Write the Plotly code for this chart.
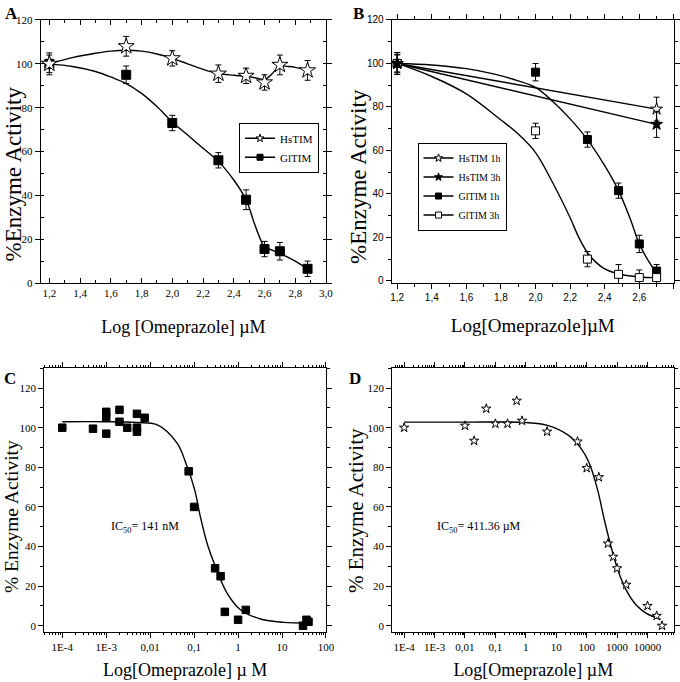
import plotly.graph_objects as go

# ---------------- Panel A ----------------
A_x = [1.2, 1.7, 2.0, 2.3, 2.48, 2.6, 2.7, 2.88]
A_hs_y = [100, 108, 102.5, 95.5, 94.5, 91.5, 99.5, 97]
A_hs_err = [5, 4.5, 3.5, 4, 3.5, 3.5, 4.5, 4.5]
A_gl_y = [100, 95, 73, 56, 38, 15.5, 14.5, 6.5]
A_gl_err = [4, 4, 3.5, 3.5, 4.5, 3.5, 4, 3.5]
# smooth curves (knots)
A_hs_cx = [1.2, 1.35, 1.5, 1.6, 1.7, 1.8, 1.9, 2.0, 2.1, 2.2, 2.3, 2.4, 2.48, 2.55, 2.6, 2.65, 2.7, 2.75, 2.8, 2.88]
A_hs_cy = [100, 102.8, 104.8, 105.8, 106.2, 105.8, 104.5, 102.5, 100, 97.5, 95.6, 94.8, 94.3, 93.5, 92.8, 95.5, 99, 98.8, 98.4, 97]
A_gl_cx = [1.2, 1.35, 1.5, 1.6, 1.7, 1.8, 1.9, 2.0, 2.1, 2.2, 2.3, 2.4, 2.48, 2.53, 2.57, 2.6, 2.65, 2.7, 2.8, 2.88]
A_gl_cy = [100, 98.8, 96.5, 94, 91, 86.5, 80.5, 73.5, 67.5, 61.5, 55.5, 47, 38, 28, 20.5, 16.5, 15, 13.5, 10, 6.5]
A_xticks = [1.2, 1.4, 1.6, 1.8, 2.0, 2.2, 2.4, 2.6, 2.8, 3.0]
A_xticktext = ["1,2", "1,4", "1,6", "1,8", "2,0", "2,2", "2,4", "2,6", "2,8", "3,0"]

# ---------------- Panel B ----------------
B_hs1_x = [1.2, 2.7]
B_hs1_y = [100, 79]
B_hs1_err = [5, 5.5]
B_hs3_x = [1.2, 2.7]
B_hs3_y = [100, 72]
B_hs3_err = [5, 6]
B_gl_x = [1.2, 2.0, 2.3, 2.48, 2.6, 2.7]
B_gl1_y = [100, 96, 65, 41.5, 17, 4.5]
B_gl1_err = [4, 4, 3.5, 3.5, 4, 3]
B_gl3_y = [100, 69, 10, 3, 1.5, 1.5]
B_gl3_err = [4, 3.5, 3.5, 4.5, 3.5, 3]
B_gl1_cx = [1.2, 1.4, 1.6, 1.75, 1.9, 2.0, 2.1, 2.2, 2.3, 2.4, 2.48, 2.55, 2.6, 2.65, 2.7]
B_gl1_cy = [100, 99.3, 97.6, 95.3, 92, 89, 82.5, 74.5, 65, 53, 41.5, 28, 17, 9.5, 3.5]
B_gl3_cx = [1.2, 1.4, 1.6, 1.8, 1.9, 2.0, 2.1, 2.2, 2.25, 2.3, 2.35, 2.4, 2.5, 2.6, 2.7]
B_gl3_cy = [100, 94, 86, 74, 67.5, 59, 45, 29, 20, 13, 8.5, 5.5, 2.8, 1.8, 1.5]
B_xticks = [1.2, 1.4, 1.6, 1.8, 2.0, 2.2, 2.4, 2.6, 2.8]
B_xticktext = ["1,2", "1,4", "1,6", "1,8", "2,0", "2,2", "2,4", "2,6", "2,8"]

# ---------------- Panel C ----------------
C_x = [1e-4, 5e-4, 1e-3, 1e-3, 1e-3, 2e-3, 2e-3, 3e-3, 5e-3, 5e-3, 5e-3, 7.5e-3,
       0.075, 0.1, 0.3, 0.4, 0.5, 1, 1.5, 30, 36, 40]
C_y = [100, 99.5, 108, 105, 97, 109, 103, 100, 107, 100, 98, 105,
       78, 60, 29, 25, 7, 3, 8, 0, 3, 2]
C_cx = [1e-4, 1e-3, 0.005, 0.0142, 0.0406, 0.0687, 0.1026, 0.138, 0.196, 0.304, 0.561, 1.13, 3.24, 11, 40]
C_cy = [103, 103, 102.6, 101.5, 92.3, 80.5, 68.7, 55.2, 41.8, 30, 16.5, 8.1, 3.4, 1.7, 1.4]

# ---------------- Panel D ----------------
D_x = [1e-4, 0.01, 0.02, 0.05, 0.1, 0.25, 0.5, 0.75, 5, 50, 100, 250, 500, 750, 1000, 2000, 10000, 20000, 30000]
D_y = [100, 101, 93.4, 109.6, 102, 102, 113.6, 103.5, 98, 93, 79.6, 75, 41.5, 34.8, 29, 20.7, 10, 5, 0]
D_cx = [1e-4, 0.01, 1, 5.1, 23.4, 64.3, 121, 228, 380, 630, 1050, 1960, 4160, 8900, 27000]
D_cy = [102.8, 102.8, 102.6, 101.2, 96.5, 89.7, 82.2, 68.7, 53.5, 40, 28.3, 18.2, 10.6, 6.4, 3.2]

LOG_xticks = [1e-4, 1e-3, 0.01, 0.1, 1, 10, 100, 1000, 10000]
LOG_xticktext = ["1E-4", "1E-3", "0,01", "0,1", "1", "10", "100", "1000", "10000"]
Y_ticks = [0, 20, 40, 60, 80, 100, 120]

SERIF = "Liberation Serif"
SANS = "Liberation Sans"
BLK = "black"

fig = go.Figure()

def curve(x, y, xa, ya, shape="spline"):
    fig.add_trace(go.Scatter(x=x, y=y, mode="lines", xaxis=xa, yaxis=ya,
                             line=dict(color=BLK, width=1.4, shape=shape, smoothing=1.0),
                             showlegend=False, hoverinfo="skip"))

def pts(x, y, xa, ya, symbol, fill, size, err=None):
    kw = {}
    if err is not None:
        kw["error_y"] = dict(type="data", array=err, color=BLK, thickness=1, width=3)
    fig.add_trace(go.Scatter(x=x, y=y, mode="markers", xaxis=xa, yaxis=ya,
                             marker=dict(symbol=symbol, size=size, color=fill,
                                         line=dict(color=BLK, width=1)),
                             showlegend=False, **kw))

def leg(name, symbol, fill, legend):
    fig.add_trace(go.Scatter(x=[None], y=[None], mode="lines+markers", name=name,
                             line=dict(color=BLK, width=1.4),
                             marker=dict(symbol=symbol, size=6, color=fill,
                                         line=dict(color=BLK, width=1)),
                             legend=legend, showlegend=True))

# A
curve(A_hs_cx, A_hs_cy, "x", "y")
curve(A_gl_cx, A_gl_cy, "x", "y")
pts(A_x, A_gl_y, "x", "y", "square", BLK, 9, A_gl_err)
pts(A_x, A_hs_y, "x", "y", "star", "white", 12, A_hs_err)
leg("HsTIM", "star", "white", "legend")
leg("GlTIM", "square", BLK, "legend")

# B
curve(B_hs1_x, B_hs1_y, "x2", "y2", shape="linear")
curve(B_hs3_x, B_hs3_y, "x2", "y2", shape="linear")
curve(B_gl1_cx, B_gl1_cy, "x2", "y2")
curve(B_gl3_cx, B_gl3_cy, "x2", "y2")
pts(B_gl_x, B_gl1_y, "x2", "y2", "square", BLK, 8, B_gl1_err)
pts(B_gl_x, B_gl3_y, "x2", "y2", "square", "white", 8, B_gl3_err)
pts(B_hs1_x, B_hs1_y, "x2", "y2", "star", "white", 9, B_hs1_err)
pts(B_hs3_x, B_hs3_y, "x2", "y2", "star", BLK, 9, B_hs3_err)
leg("HsTIM 1h", "star", "white", "legend2")
leg("HsTIM 3h", "star", BLK, "legend2")
leg("GlTIM 1h", "square", BLK, "legend2")
leg("GlTIM 3h", "square", "white", "legend2")

# C
curve(C_cx, C_cy, "x3", "y3")
pts(C_x, C_y, "x3", "y3", "square", BLK, 7.5)

# D
curve(D_cx, D_cy, "x4", "y4")
pts(D_x, D_y, "x4", "y4", "star", "white", 7)

def axis_common(**kw):
    d = dict(showline=True, linecolor=BLK, linewidth=1, mirror="ticks", automargin=False,
             showgrid=False, zeroline=False, tickcolor=BLK, ticklen=5, tickwidth=1,
             tickfont=dict(family=SERIF, size=11, color=BLK))
    d.update(kw)
    return d

def minor(ticks, **kw):
    d = dict(ticks=ticks, ticklen=3, tickwidth=1, tickcolor=BLK)
    d.update(kw)
    return d

fig.update_layout(
    width=680, height=682,
    margin=dict(l=0, r=0, t=0, b=0),
    paper_bgcolor="white", plot_bgcolor="white",
    font=dict(family=SERIF, color=BLK),
    xaxis=axis_common(domain=[0.0599, 0.4794], anchor="y", range=[1.144, 3.0],
                      tickmode="array", tickvals=A_xticks, ticktext=A_xticktext, ticks="inside",
                      minor=minor("inside", tickmode="linear", tick0=1.1, dtick=0.1),
                      title=dict(text="Log [Omeprazole] µM", font=dict(size=18), standoff=22)),
    yaxis=axis_common(domain=[0.585, 0.9707], anchor="x", range=[0, 120],
                      tickmode="array", tickvals=Y_ticks, ticks="outside",
                      minor=minor("inside", tickmode="linear", tick0=0, dtick=10)),
    xaxis2=axis_common(domain=[0.576, 0.991], anchor="y2", range=[1.168, 2.8],
                       tickmode="array", tickvals=B_xticks, ticktext=B_xticktext, ticks="outside",
                       tickfont=dict(family=SANS, size=10, color=BLK),
                       minor=minor("outside", tickmode="linear", tick0=1.1, dtick=0.1),
                       title=dict(text="Log[Omeprazole]µM", font=dict(size=19), standoff=16)),
    yaxis2=axis_common(domain=[0.585, 0.9707], anchor="x2", range=[-1, 120],
                       tickmode="array", tickvals=Y_ticks, ticks="outside",
                       tickfont=dict(family=SANS, size=10, color=BLK),
                       minor=minor("outside", tickmode="linear", tick0=0, dtick=10)),
    xaxis3=axis_common(domain=[0.0651, 0.4794], anchor="y3", type="log", range=[-4.41, 2],
                       tickmode="array", tickvals=LOG_xticks, ticktext=LOG_xticktext, ticks="outside",
                       minor=minor("outside", ticklen=2.5, dtick="D1"),
                       title=dict(text="Log[Omeprazole] µ M", font=dict(size=18), standoff=11)),
    yaxis3=axis_common(domain=[0.0738, 0.46], anchor="x3", range=[-3, 130],
                       tickmode="array", tickvals=Y_ticks, ticks="outside",
                       minor=minor("outside", tickmode="linear", tick0=0, dtick=10)),
    xaxis4=axis_common(domain=[0.5769, 0.9916], anchor="y4", type="log", range=[-4.39, 4.88],
                       tickmode="array", tickvals=LOG_xticks, ticktext=LOG_xticktext, ticks="outside",
                       minor=minor("outside", ticklen=2.5, dtick="D1"),
                       title=dict(text="Log[Omeprazole] µM", font=dict(size=18), standoff=11)),
    yaxis4=axis_common(domain=[0.0738, 0.46], anchor="x4", range=[-3, 130],
                       tickmode="array", tickvals=Y_ticks, ticks="outside",
                       minor=minor("outside", tickmode="linear", tick0=0, dtick=10)),
    legend=dict(x=0.3515, y=0.82, xanchor="left", yanchor="top", bgcolor="white",
                bordercolor=BLK, borderwidth=1, font=dict(family=SERIF, size=11, color=BLK),
                itemwidth=30, tracegroupgap=0),
    legend2=dict(x=0.614, y=0.791, xanchor="left", yanchor="top", bgcolor="white",
                 bordercolor=BLK, borderwidth=1, font=dict(family=SERIF, size=10, color=BLK),
                 itemwidth=30, tracegroupgap=0),
    showlegend=True,
)

# y-axis titles (placed as in the reference, slightly below the axis centre)
ytitles = [
    dict(text="%Enzyme Activity", x=13, y=174.5, size=23),
    dict(text="%Enzyme Activity", x=358, y=177, size=23),
    dict(text="% Enzyme Activity", x=11, y=517, size=19.5),
    dict(text="% Enzyme Activity", x=356, y=511, size=21),
]
for t in ytitles:
    fig.add_annotation(xref="paper", yref="paper", x=t["x"] / 680, y=1 - t["y"] / 682,
                       xanchor="center", yanchor="middle", textangle=-90, showarrow=False,
                       text=t["text"], font=dict(family=SERIF, size=t["size"], color=BLK))

anns = [
    dict(text="<b>A</b>", x=3 / 680, y=1 - 2 / 682),
    dict(text="<b>B</b>", x=351 / 680, y=1 - 2 / 682),
    dict(text="<b>C</b>", x=2 / 680, y=1 - 367 / 682),
    dict(text="<b>D</b>", x=347 / 680, y=1 - 367 / 682),
]
for a in anns:
    fig.add_annotation(xref="paper", yref="paper", xanchor="left", yanchor="top",
                       showarrow=False, font=dict(family=SERIF, size=17, color=BLK), **a)

fig.add_annotation(xref="paper", yref="paper", x=145 / 680, y=1 - 527 / 682,
                   xanchor="center", yanchor="middle",
                   text="IC<sub>50</sub>= 141 nM", showarrow=False,
                   font=dict(family=SERIF, size=12, color=BLK))
fig.add_annotation(xref="paper", yref="paper", x=479 / 680, y=1 - 527 / 682,
                   xanchor="center", yanchor="middle",
                   text="IC<sub>50</sub>= 411.36 µM", showarrow=False,
                   font=dict(family=SERIF, size=12, color=BLK))

fig.write_html("out.html", config={"displayModeBar": False},
               post_script="document.body.style.margin='0px';")
